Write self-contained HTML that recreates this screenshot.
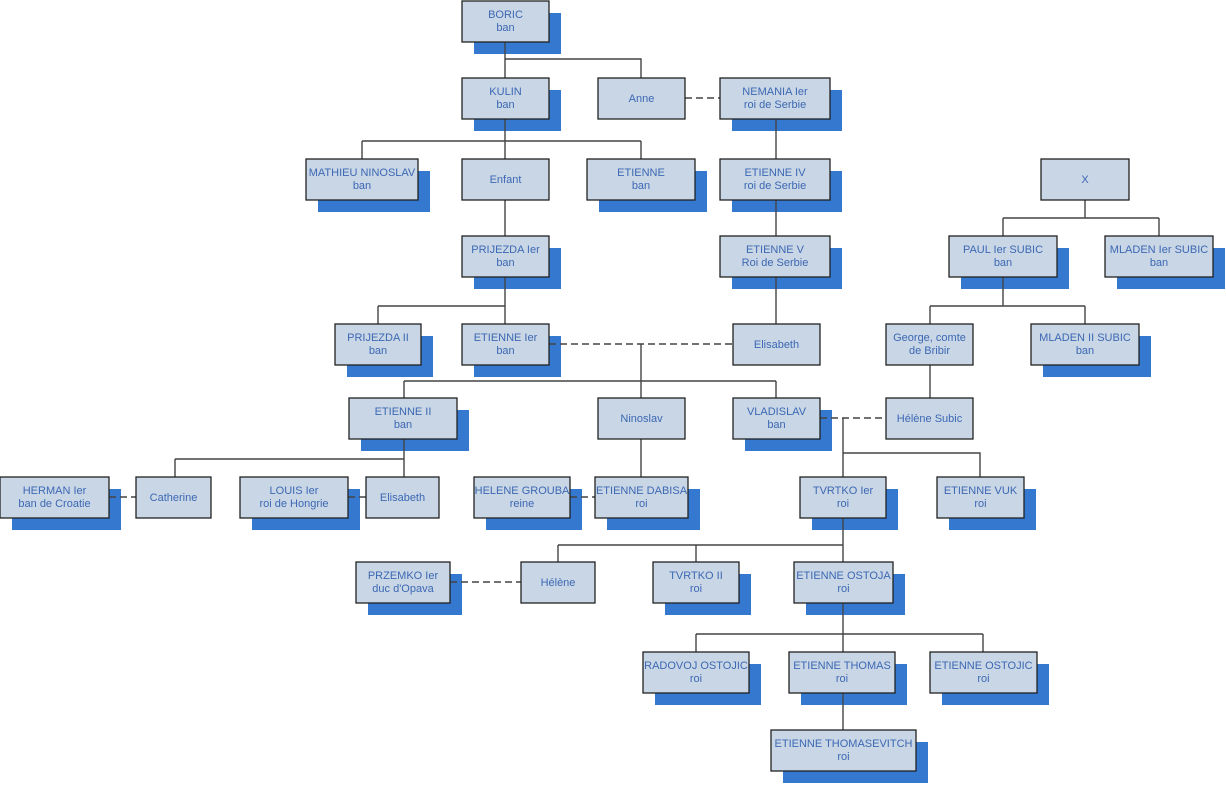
<!DOCTYPE html>
<html><head><meta charset="utf-8"><style>
html,body{margin:0;padding:0;background:#fff;}
svg{display:block;}
text{font-family:"Liberation Sans",sans-serif;font-size:11px;fill:#3c68b4;text-anchor:middle;}
.b{fill:#c9d6e5;stroke:#222;stroke-width:1.3;}
.s{fill:#3478d0;}
.l{stroke:#444;stroke-width:1.4;fill:none;}
.d{stroke:#444;stroke-width:1.4;fill:none;stroke-dasharray:7,4;}
</style></head><body>
<svg width="1226" height="785" viewBox="0 0 1226 785" xmlns="http://www.w3.org/2000/svg">
<g id="shadows">
<rect class="s" x="474" y="13" width="87" height="41"/>
<rect class="s" x="474" y="90" width="87" height="41"/>
<rect class="s" x="732" y="90" width="110" height="41"/>
<rect class="s" x="318" y="171" width="112" height="41"/>
<rect class="s" x="599" y="171" width="108" height="41"/>
<rect class="s" x="732" y="171" width="110" height="41"/>
<rect class="s" x="474" y="248" width="87" height="41"/>
<rect class="s" x="732" y="248" width="110" height="41"/>
<rect class="s" x="961" y="248" width="108" height="41"/>
<rect class="s" x="1117" y="248" width="108" height="41"/>
<rect class="s" x="347" y="336" width="86" height="41"/>
<rect class="s" x="474" y="336" width="87" height="41"/>
<rect class="s" x="1043" y="336" width="108" height="41"/>
<rect class="s" x="361" y="410" width="108" height="41"/>
<rect class="s" x="745" y="410" width="87" height="41"/>
<rect class="s" x="12" y="489" width="109" height="41"/>
<rect class="s" x="252" y="489" width="108" height="41"/>
<rect class="s" x="486" y="489" width="96" height="41"/>
<rect class="s" x="607" y="489" width="93" height="41"/>
<rect class="s" x="812" y="489" width="86" height="41"/>
<rect class="s" x="949" y="489" width="87" height="41"/>
<rect class="s" x="368" y="574" width="94" height="41"/>
<rect class="s" x="665" y="574" width="86" height="41"/>
<rect class="s" x="806" y="574" width="99" height="41"/>
<rect class="s" x="655" y="664" width="106" height="41"/>
<rect class="s" x="801" y="664" width="106" height="41"/>
<rect class="s" x="942" y="664" width="107" height="41"/>
<rect class="s" x="783" y="742" width="145" height="41"/>
</g>
<g id="lines">
<path class="l" d="M505 42V78M505 59H641V78"/>
<path class="d" d="M685 98H720"/>
<path class="l" d="M505 119V159M362 141H641M362 141V159M641 141V159"/>
<path class="l" d="M505 200V236M776 119V159M776 200V236M776 277V324"/>
<path class="l" d="M1085 200V218M1003 218H1159M1003 218V236M1159 218V236"/>
<path class="l" d="M505 277V324M378 306H505M378 306V324"/>
<path class="l" d="M1003 277V306M930 306H1085M930 306V324M1085 306V324"/>
<path class="d" d="M549 344H733"/>
<path class="l" d="M641 344V381M404 381H776M404 381V398M641 381V398M776 381V398"/>
<path class="l" d="M930 365V398"/>
<path class="l" d="M404 439V477M175 459H404M175 459V477"/>
<path class="d" d="M109 497H136M348 497H366M570 497H595"/>
<path class="l" d="M641 439V477"/>
<path class="d" d="M820 418H886"/>
<path class="l" d="M843 418V477M843 453H980V477"/>
<path class="l" d="M843 518V562M558 545H843M558 545V562M696 545V562"/>
<path class="d" d="M450 582H521"/>
<path class="l" d="M843 603V652M696 634H983M696 634V652M983 634V652"/>
<path class="l" d="M843 693V730"/>
</g>
<g id="boxes">
<rect class="b" x="462" y="1" width="87" height="41"/><text x="505.5" y="18">BORIC</text><text x="505.5" y="31">ban</text>
<rect class="b" x="462" y="78" width="87" height="41"/><text x="505.5" y="95">KULIN</text><text x="505.5" y="108">ban</text>
<rect class="b" x="598" y="78" width="87" height="41"/><text x="641.5" y="102">Anne</text>
<rect class="b" x="720" y="78" width="110" height="41"/><text x="775" y="95">NEMANIA Ier</text><text x="775" y="108">roi de Serbie</text>
<rect class="b" x="306" y="159" width="112" height="41"/><text x="362" y="176">MATHIEU NINOSLAV</text><text x="362" y="189">ban</text>
<rect class="b" x="462" y="159" width="87" height="41"/><text x="505.5" y="183">Enfant</text>
<rect class="b" x="587" y="159" width="108" height="41"/><text x="641" y="176">ETIENNE</text><text x="641" y="189">ban</text>
<rect class="b" x="720" y="159" width="110" height="41"/><text x="775" y="176">ETIENNE IV</text><text x="775" y="189">roi de Serbie</text>
<rect class="b" x="1041" y="159" width="88" height="41"/><text x="1085" y="183">X</text>
<rect class="b" x="462" y="236" width="87" height="41"/><text x="505.5" y="253">PRIJEZDA Ier</text><text x="505.5" y="266">ban</text>
<rect class="b" x="720" y="236" width="110" height="41"/><text x="775" y="253">ETIENNE V</text><text x="775" y="266">Roi de Serbie</text>
<rect class="b" x="949" y="236" width="108" height="41"/><text x="1003" y="253">PAUL Ier SUBIC</text><text x="1003" y="266">ban</text>
<rect class="b" x="1105" y="236" width="108" height="41"/><text x="1159" y="253">MLADEN Ier SUBIC</text><text x="1159" y="266">ban</text>
<rect class="b" x="335" y="324" width="86" height="41"/><text x="378" y="341">PRIJEZDA II</text><text x="378" y="354">ban</text>
<rect class="b" x="462" y="324" width="87" height="41"/><text x="505.5" y="341">ETIENNE Ier</text><text x="505.5" y="354">ban</text>
<rect class="b" x="733" y="324" width="87" height="41"/><text x="776.5" y="348">Elisabeth</text>
<rect class="b" x="886" y="324" width="87" height="41"/><text x="929.5" y="341">George, comte</text><text x="929.5" y="354">de Bribir</text>
<rect class="b" x="1031" y="324" width="108" height="41"/><text x="1085" y="341">MLADEN II SUBIC</text><text x="1085" y="354">ban</text>
<rect class="b" x="349" y="398" width="108" height="41"/><text x="403" y="415">ETIENNE II</text><text x="403" y="428">ban</text>
<rect class="b" x="598" y="398" width="87" height="41"/><text x="641.5" y="422">Ninoslav</text>
<rect class="b" x="733" y="398" width="87" height="41"/><text x="776.5" y="415">VLADISLAV</text><text x="776.5" y="428">ban</text>
<rect class="b" x="886" y="398" width="87" height="41"/><text x="929.5" y="422">Hélène Subic</text>
<rect class="b" x="0" y="477" width="109" height="41"/><text x="54.5" y="494">HERMAN Ier</text><text x="54.5" y="507">ban de Croatie</text>
<rect class="b" x="136" y="477" width="75" height="41"/><text x="173.5" y="501">Catherine</text>
<rect class="b" x="240" y="477" width="108" height="41"/><text x="294" y="494">LOUIS Ier</text><text x="294" y="507">roi de Hongrie</text>
<rect class="b" x="366" y="477" width="73" height="41"/><text x="402.5" y="501">Elisabeth</text>
<rect class="b" x="474" y="477" width="96" height="41"/><text x="522" y="494">HELENE GROUBA</text><text x="522" y="507">reine</text>
<rect class="b" x="595" y="477" width="93" height="41"/><text x="641.5" y="494">ETIENNE DABISA</text><text x="641.5" y="507">roi</text>
<rect class="b" x="800" y="477" width="86" height="41"/><text x="843" y="494">TVRTKO Ier</text><text x="843" y="507">roi</text>
<rect class="b" x="937" y="477" width="87" height="41"/><text x="980.5" y="494">ETIENNE VUK</text><text x="980.5" y="507">roi</text>
<rect class="b" x="356" y="562" width="94" height="41"/><text x="403" y="579">PRZEMKO Ier</text><text x="403" y="592">duc d'Opava</text>
<rect class="b" x="521" y="562" width="74" height="41"/><text x="558" y="586">Hélène</text>
<rect class="b" x="653" y="562" width="86" height="41"/><text x="696" y="579">TVRTKO II</text><text x="696" y="592">roi</text>
<rect class="b" x="794" y="562" width="99" height="41"/><text x="843.5" y="579">ETIENNE OSTOJA</text><text x="843.5" y="592">roi</text>
<rect class="b" x="643" y="652" width="106" height="41"/><text x="696" y="669">RADOVOJ OSTOJIC</text><text x="696" y="682">roi</text>
<rect class="b" x="789" y="652" width="106" height="41"/><text x="842" y="669">ETIENNE THOMAS</text><text x="842" y="682">roi</text>
<rect class="b" x="930" y="652" width="107" height="41"/><text x="983.5" y="669">ETIENNE OSTOJIC</text><text x="983.5" y="682">roi</text>
<rect class="b" x="771" y="730" width="145" height="41"/><text x="843.5" y="747">ETIENNE THOMASEVITCH</text><text x="843.5" y="760">roi</text>
</g>
</svg>
</body></html>
